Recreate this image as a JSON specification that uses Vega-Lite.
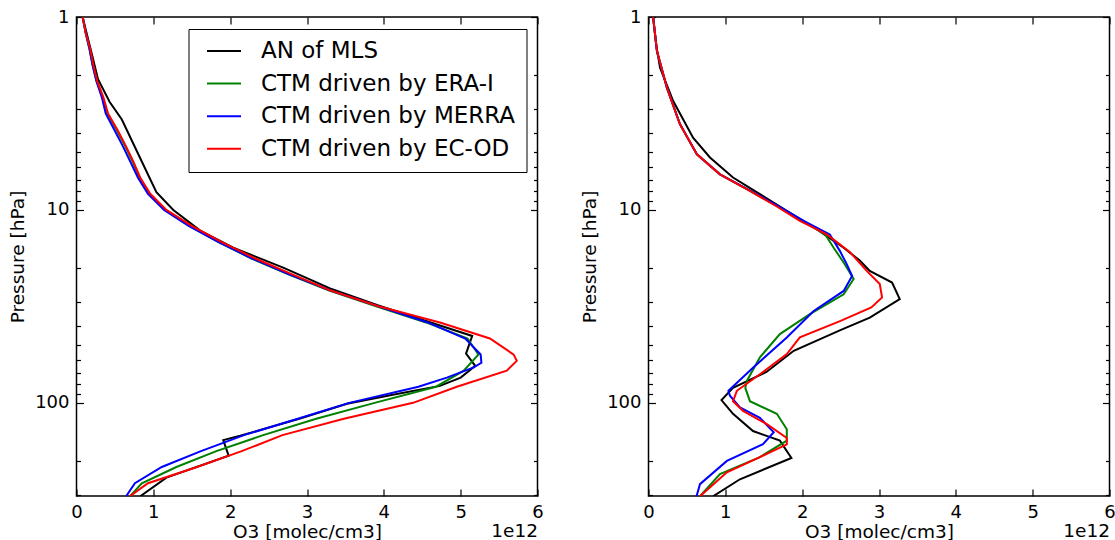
{
  "$schema": "https://vega.github.io/schema/vega-lite/v6.json",
  "padding": {"left": 7.5, "top": 7, "right": 0, "bottom": 0},
  "spacing": 35,
  "config": {
    "font": "DejaVu Sans",
    "view": {"stroke": "black", "strokeWidth": 1.5},
    "axis": {"grid": false, "domain": false, "labelFont": "DejaVu Sans", "labelFontSize": 18, "labelColor": "black", "titleFont": "DejaVu Sans", "titleFontSize": 18.5, "titleFontWeight": "normal", "titleColor": "black", "tickColor": "black", "tickWidth": 1.2, "labelFlush": false, "labelOverlap": false}
  },
  "datasets": {
    "left": [
      {"s":"AN of MLS","x":0.08,"p":1},{"s":"AN of MLS","x":0.14,"p":1.25},{"s":"AN of MLS","x":0.19,"p":1.5},{"s":"AN of MLS","x":0.28,"p":2.1},{"s":"AN of MLS","x":0.43,"p":2.75},{"s":"AN of MLS","x":0.59,"p":3.4},{"s":"AN of MLS","x":0.80,"p":5.1},{"s":"AN of MLS","x":1.04,"p":8.1},{"s":"AN of MLS","x":1.26,"p":10},{"s":"AN of MLS","x":1.61,"p":12.8},{"s":"AN of MLS","x":2.04,"p":15.7},{"s":"AN of MLS","x":2.69,"p":19.9},{"s":"AN of MLS","x":3.30,"p":25.5},{"s":"AN of MLS","x":3.92,"p":31.2},{"s":"AN of MLS","x":4.58,"p":38},{"s":"AN of MLS","x":5.15,"p":45},{"s":"AN of MLS","x":5.07,"p":55.6},{"s":"AN of MLS","x":5.19,"p":64.3},{"s":"AN of MLS","x":5.00,"p":74},{"s":"AN of MLS","x":4.73,"p":81.7},{"s":"AN of MLS","x":4.10,"p":91},{"s":"AN of MLS","x":3.52,"p":101},{"s":"AN of MLS","x":2.90,"p":121},{"s":"AN of MLS","x":2.13,"p":148},{"s":"AN of MLS","x":1.91,"p":156},{"s":"AN of MLS","x":1.98,"p":188},{"s":"AN of MLS","x":1.17,"p":244},{"s":"AN of MLS","x":0.83,"p":305},

      {"s":"CTM driven by ERA-I","x":0.08,"p":1},{"s":"CTM driven by ERA-I","x":0.12,"p":1.21},{"s":"CTM driven by ERA-I","x":0.17,"p":1.47},{"s":"CTM driven by ERA-I","x":0.21,"p":1.78},{"s":"CTM driven by ERA-I","x":0.26,"p":2.15},{"s":"CTM driven by ERA-I","x":0.34,"p":2.61},{"s":"CTM driven by ERA-I","x":0.40,"p":3.16},{"s":"CTM driven by ERA-I","x":0.52,"p":3.83},{"s":"CTM driven by ERA-I","x":0.63,"p":4.64},{"s":"CTM driven by ERA-I","x":0.73,"p":5.62},{"s":"CTM driven by ERA-I","x":0.82,"p":6.81},{"s":"CTM driven by ERA-I","x":0.95,"p":8.25},{"s":"CTM driven by ERA-I","x":1.15,"p":10},{"s":"CTM driven by ERA-I","x":1.47,"p":12.1},{"s":"CTM driven by ERA-I","x":1.85,"p":14.7},{"s":"CTM driven by ERA-I","x":2.27,"p":17.8},{"s":"CTM driven by ERA-I","x":2.75,"p":21.5},{"s":"CTM driven by ERA-I","x":3.28,"p":26.1},{"s":"CTM driven by ERA-I","x":3.90,"p":31.6},{"s":"CTM driven by ERA-I","x":4.55,"p":38.3},{"s":"CTM driven by ERA-I","x":5.09,"p":46.4},{"s":"CTM driven by ERA-I","x":5.23,"p":56.2},{"s":"CTM driven by ERA-I","x":5.04,"p":68.1},{"s":"CTM driven by ERA-I","x":4.68,"p":82.5},{"s":"CTM driven by ERA-I","x":3.88,"p":100},{"s":"CTM driven by ERA-I","x":3.12,"p":121},{"s":"CTM driven by ERA-I","x":2.43,"p":147},{"s":"CTM driven by ERA-I","x":1.82,"p":178},{"s":"CTM driven by ERA-I","x":1.30,"p":215},{"s":"CTM driven by ERA-I","x":0.85,"p":261},{"s":"CTM driven by ERA-I","x":0.66,"p":316},

      {"s":"CTM driven by MERRA","x":0.08,"p":1},{"s":"CTM driven by MERRA","x":0.12,"p":1.21},{"s":"CTM driven by MERRA","x":0.17,"p":1.47},{"s":"CTM driven by MERRA","x":0.21,"p":1.78},{"s":"CTM driven by MERRA","x":0.26,"p":2.15},{"s":"CTM driven by MERRA","x":0.33,"p":2.61},{"s":"CTM driven by MERRA","x":0.38,"p":3.16},{"s":"CTM driven by MERRA","x":0.49,"p":3.83},{"s":"CTM driven by MERRA","x":0.60,"p":4.64},{"s":"CTM driven by MERRA","x":0.70,"p":5.62},{"s":"CTM driven by MERRA","x":0.80,"p":6.81},{"s":"CTM driven by MERRA","x":0.93,"p":8.25},{"s":"CTM driven by MERRA","x":1.14,"p":10},{"s":"CTM driven by MERRA","x":1.46,"p":12.1},{"s":"CTM driven by MERRA","x":1.85,"p":14.7},{"s":"CTM driven by MERRA","x":2.28,"p":17.8},{"s":"CTM driven by MERRA","x":2.76,"p":21.5},{"s":"CTM driven by MERRA","x":3.30,"p":26.1},{"s":"CTM driven by MERRA","x":3.93,"p":31.6},{"s":"CTM driven by MERRA","x":4.57,"p":38.3},{"s":"CTM driven by MERRA","x":5.06,"p":46.4},{"s":"CTM driven by MERRA","x":5.26,"p":56.2},{"s":"CTM driven by MERRA","x":5.27,"p":62},{"s":"CTM driven by MERRA","x":5.17,"p":65.5},{"s":"CTM driven by MERRA","x":4.82,"p":74},{"s":"CTM driven by MERRA","x":4.45,"p":82.5},{"s":"CTM driven by MERRA","x":3.55,"p":100},{"s":"CTM driven by MERRA","x":2.88,"p":121},{"s":"CTM driven by MERRA","x":2.18,"p":147},{"s":"CTM driven by MERRA","x":1.62,"p":178},{"s":"CTM driven by MERRA","x":1.11,"p":215},{"s":"CTM driven by MERRA","x":0.76,"p":261},{"s":"CTM driven by MERRA","x":0.62,"p":316},

      {"s":"CTM driven by EC-OD","x":0.08,"p":1},{"s":"CTM driven by EC-OD","x":0.12,"p":1.21},{"s":"CTM driven by EC-OD","x":0.18,"p":1.47},{"s":"CTM driven by EC-OD","x":0.22,"p":1.78},{"s":"CTM driven by EC-OD","x":0.27,"p":2.15},{"s":"CTM driven by EC-OD","x":0.35,"p":2.61},{"s":"CTM driven by EC-OD","x":0.41,"p":3.16},{"s":"CTM driven by EC-OD","x":0.53,"p":3.83},{"s":"CTM driven by EC-OD","x":0.64,"p":4.64},{"s":"CTM driven by EC-OD","x":0.74,"p":5.62},{"s":"CTM driven by EC-OD","x":0.83,"p":6.81},{"s":"CTM driven by EC-OD","x":0.96,"p":8.25},{"s":"CTM driven by EC-OD","x":1.17,"p":10},{"s":"CTM driven by EC-OD","x":1.50,"p":12.1},{"s":"CTM driven by EC-OD","x":1.89,"p":14.7},{"s":"CTM driven by EC-OD","x":2.32,"p":17.8},{"s":"CTM driven by EC-OD","x":2.80,"p":21.5},{"s":"CTM driven by EC-OD","x":3.30,"p":26.1},{"s":"CTM driven by EC-OD","x":3.93,"p":31.6},{"s":"CTM driven by EC-OD","x":4.73,"p":38.3},{"s":"CTM driven by EC-OD","x":5.38,"p":46.4},{"s":"CTM driven by EC-OD","x":5.69,"p":56.2},{"s":"CTM driven by EC-OD","x":5.73,"p":60.6},{"s":"CTM driven by EC-OD","x":5.60,"p":68.1},{"s":"CTM driven by EC-OD","x":4.95,"p":82.5},{"s":"CTM driven by EC-OD","x":4.38,"p":100},{"s":"CTM driven by EC-OD","x":3.48,"p":121},{"s":"CTM driven by EC-OD","x":2.68,"p":147},{"s":"CTM driven by EC-OD","x":2.15,"p":178},{"s":"CTM driven by EC-OD","x":1.57,"p":215},{"s":"CTM driven by EC-OD","x":0.93,"p":261},{"s":"CTM driven by EC-OD","x":0.64,"p":316}
    ],
    "right": [
      {"s":"AN of MLS","x":0.06,"p":1},{"s":"AN of MLS","x":0.10,"p":1.4},{"s":"AN of MLS","x":0.15,"p":1.83},{"s":"AN of MLS","x":0.32,"p":2.72},{"s":"AN of MLS","x":0.58,"p":4.22},{"s":"AN of MLS","x":0.80,"p":5.35},{"s":"AN of MLS","x":1.10,"p":6.79},{"s":"AN of MLS","x":1.45,"p":8.28},{"s":"AN of MLS","x":1.80,"p":10.1},{"s":"AN of MLS","x":2.15,"p":12.3},{"s":"AN of MLS","x":2.54,"p":15.7},{"s":"AN of MLS","x":2.75,"p":18.3},{"s":"AN of MLS","x":2.88,"p":20.7},{"s":"AN of MLS","x":3.17,"p":23.8},{"s":"AN of MLS","x":3.27,"p":29},{"s":"AN of MLS","x":2.88,"p":36.2},{"s":"AN of MLS","x":2.49,"p":42.1},{"s":"AN of MLS","x":1.89,"p":53.7},{"s":"AN of MLS","x":1.54,"p":69},{"s":"AN of MLS","x":1.10,"p":83.6},{"s":"AN of MLS","x":0.95,"p":96.8},{"s":"AN of MLS","x":1.10,"p":114},{"s":"AN of MLS","x":1.36,"p":140},{"s":"AN of MLS","x":1.71,"p":157},{"s":"AN of MLS","x":1.86,"p":193},{"s":"AN of MLS","x":1.19,"p":249},{"s":"AN of MLS","x":0.84,"p":305},

      {"s":"CTM driven by ERA-I","x":0.06,"p":1},{"s":"CTM driven by ERA-I","x":0.11,"p":1.5},{"s":"CTM driven by ERA-I","x":0.24,"p":2.33},{"s":"CTM driven by ERA-I","x":0.41,"p":3.6},{"s":"CTM driven by ERA-I","x":0.63,"p":5.15},{"s":"CTM driven by ERA-I","x":0.93,"p":6.54},{"s":"CTM driven by ERA-I","x":1.32,"p":7.96},{"s":"CTM driven by ERA-I","x":1.68,"p":9.6},{"s":"CTM driven by ERA-I","x":2.00,"p":11.4},{"s":"CTM driven by ERA-I","x":2.30,"p":13.4},{"s":"CTM driven by ERA-I","x":2.41,"p":15.7},{"s":"CTM driven by ERA-I","x":2.55,"p":19},{"s":"CTM driven by ERA-I","x":2.67,"p":22.8},{"s":"CTM driven by ERA-I","x":2.54,"p":27.4},{"s":"CTM driven by ERA-I","x":2.10,"p":34.7},{"s":"CTM driven by ERA-I","x":1.71,"p":44},{"s":"CTM driven by ERA-I","x":1.45,"p":58.1},{"s":"CTM driven by ERA-I","x":1.28,"p":77},{"s":"CTM driven by ERA-I","x":1.26,"p":83.6},{"s":"CTM driven by ERA-I","x":1.32,"p":98},{"s":"CTM driven by ERA-I","x":1.67,"p":114},{"s":"CTM driven by ERA-I","x":1.80,"p":137},{"s":"CTM driven by ERA-I","x":1.80,"p":157},{"s":"CTM driven by ERA-I","x":1.45,"p":191},{"s":"CTM driven by ERA-I","x":0.93,"p":234},{"s":"CTM driven by ERA-I","x":0.67,"p":305},

      {"s":"CTM driven by MERRA","x":0.06,"p":1},{"s":"CTM driven by MERRA","x":0.11,"p":1.5},{"s":"CTM driven by MERRA","x":0.24,"p":2.33},{"s":"CTM driven by MERRA","x":0.41,"p":3.6},{"s":"CTM driven by MERRA","x":0.63,"p":5.15},{"s":"CTM driven by MERRA","x":0.93,"p":6.54},{"s":"CTM driven by MERRA","x":1.33,"p":7.96},{"s":"CTM driven by MERRA","x":1.70,"p":9.6},{"s":"CTM driven by MERRA","x":2.02,"p":11.4},{"s":"CTM driven by MERRA","x":2.36,"p":13.4},{"s":"CTM driven by MERRA","x":2.49,"p":16.3},{"s":"CTM driven by MERRA","x":2.58,"p":19.1},{"s":"CTM driven by MERRA","x":2.65,"p":22},{"s":"CTM driven by MERRA","x":2.54,"p":26.3},{"s":"CTM driven by MERRA","x":2.15,"p":33.4},{"s":"CTM driven by MERRA","x":1.80,"p":45.8},{"s":"CTM driven by MERRA","x":1.36,"p":65.7},{"s":"CTM driven by MERRA","x":1.04,"p":86.6},{"s":"CTM driven by MERRA","x":1.06,"p":91.9},{"s":"CTM driven by MERRA","x":1.19,"p":105.5},{"s":"CTM driven by MERRA","x":1.45,"p":119.6},{"s":"CTM driven by MERRA","x":1.63,"p":142},{"s":"CTM driven by MERRA","x":1.49,"p":163.6},{"s":"CTM driven by MERRA","x":1.02,"p":200},{"s":"CTM driven by MERRA","x":0.67,"p":264},{"s":"CTM driven by MERRA","x":0.62,"p":310},

      {"s":"CTM driven by EC-OD","x":0.06,"p":1},{"s":"CTM driven by EC-OD","x":0.11,"p":1.5},{"s":"CTM driven by EC-OD","x":0.24,"p":2.33},{"s":"CTM driven by EC-OD","x":0.41,"p":3.6},{"s":"CTM driven by EC-OD","x":0.63,"p":5.15},{"s":"CTM driven by EC-OD","x":0.93,"p":6.54},{"s":"CTM driven by EC-OD","x":1.32,"p":7.96},{"s":"CTM driven by EC-OD","x":1.67,"p":9.6},{"s":"CTM driven by EC-OD","x":1.97,"p":11.4},{"s":"CTM driven by EC-OD","x":2.32,"p":13.4},{"s":"CTM driven by EC-OD","x":2.62,"p":16.5},{"s":"CTM driven by EC-OD","x":2.84,"p":20.7},{"s":"CTM driven by EC-OD","x":3.01,"p":24.2},{"s":"CTM driven by EC-OD","x":3.04,"p":28.4},{"s":"CTM driven by EC-OD","x":2.90,"p":32},{"s":"CTM driven by EC-OD","x":2.50,"p":37.6},{"s":"CTM driven by EC-OD","x":1.97,"p":45.8},{"s":"CTM driven by EC-OD","x":1.80,"p":55.9},{"s":"CTM driven by EC-OD","x":1.45,"p":71.1},{"s":"CTM driven by EC-OD","x":1.15,"p":86.6},{"s":"CTM driven by EC-OD","x":1.10,"p":98},{"s":"CTM driven by EC-OD","x":1.23,"p":110},{"s":"CTM driven by EC-OD","x":1.54,"p":129},{"s":"CTM driven by EC-OD","x":1.80,"p":152},{"s":"CTM driven by EC-OD","x":1.80,"p":164},{"s":"CTM driven by EC-OD","x":1.45,"p":191},{"s":"CTM driven by EC-OD","x":1.02,"p":229},{"s":"CTM driven by EC-OD","x":0.67,"p":305}
    ]
  },
  "resolve": {"legend": {"color": "independent"}},
  "hconcat": [
    {
      "width": 461, "height": 479,
      "resolve": {"scale": {"x": "independent", "y": "independent"}},
      "layer": [
        {
          "data": {"name": "left"},
          "mark": {"type": "line", "strokeWidth": 2, "clip": true},
          "encoding": {
            "x": {"field": "x", "type": "quantitative", "scale": {"domain": [0, 6], "nice": false, "zero": false},
                  "axis": {"values": [0,1,2,3,4,5,6], "format": "d", "tickSize": -7, "labelPadding": 28, "labelBaseline": "alphabetic", "title": "O3 [molec/cm3]", "titleBaseline": "alphabetic", "titleY": 41}},
            "y": {"field": "p", "type": "quantitative", "scale": {"type": "log", "domain": [1, 304], "reverse": true, "nice": false},
                  "axis": {"values": [1,2,3,4,5,6,7,8,9,10,20,30,40,50,60,70,80,90,100,200,300], "format": "d",
                           "labelExpr": "datum.value == 1 || datum.value == 10 || datum.value == 100 ? datum.label : ''",
                           "tickSize": {"condition": {"test": "datum.value == 1 || datum.value == 10 || datum.value == 100", "value": -7}, "value": -4},
                           "labelPadding": 14.5, "title": "Pressure [hPa]", "titleBaseline": "alphabetic", "titleX": -53}},
            "color": {"field": "s", "type": "nominal",
                      "scale": {"domain": ["AN of MLS", "CTM driven by ERA-I", "CTM driven by MERRA", "CTM driven by EC-OD"], "range": ["#000000", "#008000", "#0000ff", "#ff0000"]},
                      "legend": {"orient": "none", "legendX": 112, "legendY": 12, "title": null, "symbolType": "M-2,0H2", "symbolSize": 289, "symbolStrokeWidth": 2,
                                 "symbolOffset": 13.5, "labelFontSize": 23, "labelFont": "DejaVu Sans", "labelColor": "black", "labelOffset": 25.5, "padding": 10.5, "rowPadding": 8.6,
                                 "strokeColor": "black", "fillColor": "white", "cornerRadius": 0, "labelLimit": 400}},
            "order": {"field": "p", "type": "quantitative"}
          }
        },
        {
          "data": {"values": [{}]},
          "mark": {"type": "point", "opacity": 0},
          "encoding": {
            "x": {"datum": 0, "type": "quantitative", "scale": {"domain": [0, 6], "nice": false, "zero": false},
                  "axis": {"orient": "top", "values": [0,1,2,3,4,5,6], "labels": false, "title": null, "tickSize": -7}},
            "y": {"datum": 1, "type": "quantitative", "scale": {"type": "log", "domain": [1, 304], "reverse": true, "nice": false},
                  "axis": {"orient": "right", "values": [1,2,3,4,5,6,7,8,9,10,20,30,40,50,60,70,80,90,100,200,300], "labels": false, "title": null,
                           "tickSize": {"condition": {"test": "datum.value == 1 || datum.value == 10 || datum.value == 100", "value": -7}, "value": -4}}}
          }
        },
        {
          "data": {"values": [{}]},
          "mark": {"type": "point", "opacity": 0},
          "encoding": {
            "x": {"datum": 0, "type": "quantitative", "scale": {"domain": [0, 6], "nice": false, "zero": false},
                  "axis": {"orient": "bottom", "labels": false, "ticks": false, "title": "1e12", "titleAnchor": "end", "titleBaseline": "alphabetic", "titleY": 40}}
          }
        }
      ]
    },
    {
      "width": 461, "height": 479,
      "resolve": {"scale": {"x": "independent", "y": "independent"}},
      "layer": [
        {
          "data": {"name": "right"},
          "mark": {"type": "line", "strokeWidth": 2, "clip": true},
          "encoding": {
            "x": {"field": "x", "type": "quantitative", "scale": {"domain": [0, 6], "nice": false, "zero": false},
                  "axis": {"values": [0,1,2,3,4,5,6], "format": "d", "tickSize": -7, "labelPadding": 28, "labelBaseline": "alphabetic", "title": "O3 [molec/cm3]", "titleBaseline": "alphabetic", "titleY": 41}},
            "y": {"field": "p", "type": "quantitative", "scale": {"type": "log", "domain": [1, 304], "reverse": true, "nice": false},
                  "axis": {"values": [1,2,3,4,5,6,7,8,9,10,20,30,40,50,60,70,80,90,100,200,300], "format": "d",
                           "labelExpr": "datum.value == 1 || datum.value == 10 || datum.value == 100 ? datum.label : ''",
                           "tickSize": {"condition": {"test": "datum.value == 1 || datum.value == 10 || datum.value == 100", "value": -7}, "value": -4},
                           "labelPadding": 14.5, "title": "Pressure [hPa]", "titleBaseline": "alphabetic", "titleX": -53}},
            "color": {"field": "s", "type": "nominal",
                      "scale": {"domain": ["AN of MLS", "CTM driven by ERA-I", "CTM driven by MERRA", "CTM driven by EC-OD"], "range": ["#000000", "#008000", "#0000ff", "#ff0000"]},
                      "legend": null},
            "order": {"field": "p", "type": "quantitative"}
          }
        },
        {
          "data": {"values": [{}]},
          "mark": {"type": "point", "opacity": 0},
          "encoding": {
            "x": {"datum": 0, "type": "quantitative", "scale": {"domain": [0, 6], "nice": false, "zero": false},
                  "axis": {"orient": "top", "values": [0,1,2,3,4,5,6], "labels": false, "title": null, "tickSize": -7}},
            "y": {"datum": 1, "type": "quantitative", "scale": {"type": "log", "domain": [1, 304], "reverse": true, "nice": false},
                  "axis": {"orient": "right", "values": [1,2,3,4,5,6,7,8,9,10,20,30,40,50,60,70,80,90,100,200,300], "labels": false, "title": null,
                           "tickSize": {"condition": {"test": "datum.value == 1 || datum.value == 10 || datum.value == 100", "value": -7}, "value": -4}}}
          }
        },
        {
          "data": {"values": [{}]},
          "mark": {"type": "point", "opacity": 0},
          "encoding": {
            "x": {"datum": 0, "type": "quantitative", "scale": {"domain": [0, 6], "nice": false, "zero": false},
                  "axis": {"orient": "bottom", "labels": false, "ticks": false, "title": "1e12", "titleAnchor": "end", "titleBaseline": "alphabetic", "titleY": 40}}
          }
        }
      ]
    }
  ]
}
